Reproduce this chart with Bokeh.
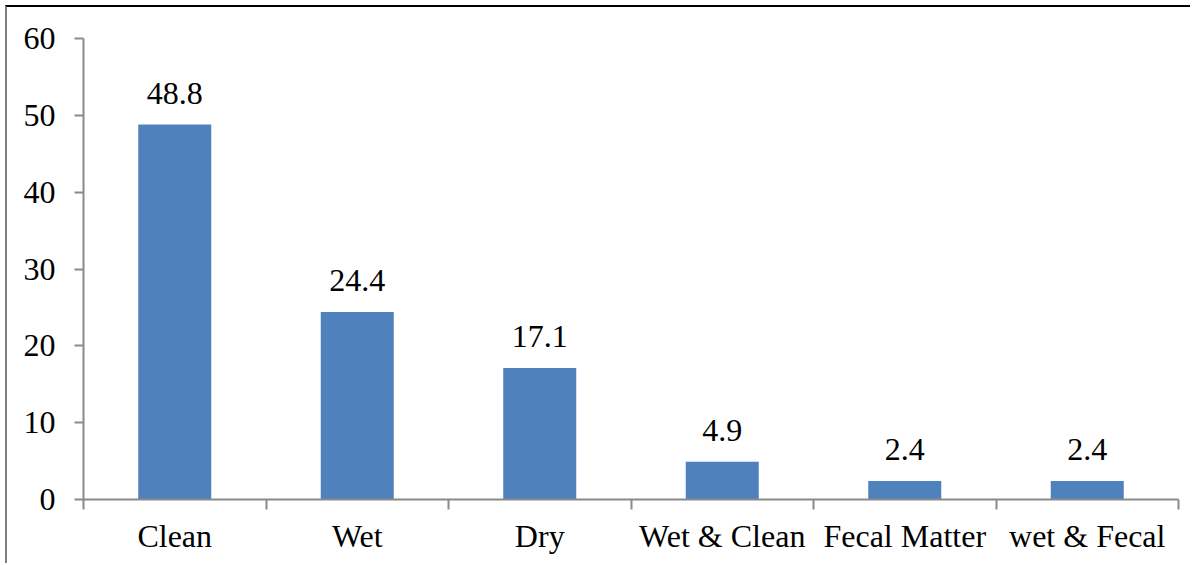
from bokeh.plotting import figure
from bokeh.models import Range1d, FixedTicker, ColumnDataSource, LabelSet
from bokeh.embed import file_html
from bokeh.resources import INLINE

categories = ["Clean", "Wet", "Dry", "Wet & Clean", "Fecal Matter", "wet & Fecal"]
percent = [48.8, 24.4, 17.1, 4.9, 2.4, 2.4]
y_ticks = [0, 10, 20, 30, 40, 50, 60]

FONT = "Liberation Serif"
BAR = "#4F81BD"
AXIS = "#8A8A8A"

n = len(categories)
centers = [i + 0.5 for i in range(n)]
edges = list(range(n + 1))

src = ColumnDataSource(dict(
    x=centers,
    top=percent,
    label=[f"{v:.1f}" for v in percent],
))

p = figure(
    width=1185, height=558,
    x_range=Range1d(0, n), y_range=Range1d(0, 60),
    output_backend="svg", toolbar_location=None,
    min_border_left=76, min_border_right=14,
    min_border_top=31, min_border_bottom=66,
    styles={
        "margin-left": "5px", "margin-top": "5px",
        "border-top": "2px solid black",
        "border-left": "2px solid #808080",
    },
)
p.outline_line_color = None
p.xgrid.grid_line_color = None
p.ygrid.grid_line_color = None
p.background_fill_color = "white"
p.border_fill_color = "white"

p.vbar(x="x", top="top", width=0.4, bottom=0, source=src,
       fill_color=BAR, line_color=None)

# value labels above each bar
p.add_layout(LabelSet(x="x", y="top", text="label", source=src,
                      text_align="center", text_baseline="alphabetic",
                      y_offset=21,
                      text_font=FONT, text_font_size="32px",
                      text_color="black"))

# x axis: category names at the centres, tick marks at the boundaries
xa = p.xaxis[0]
xa.ticker = FixedTicker(ticks=centers, minor_ticks=edges)
xa.major_label_overrides = {c: name for c, name in zip(centers, categories)}
xa.major_tick_line_color = None
xa.major_tick_out = 0
xa.major_tick_in = 0
xa.minor_tick_line_color = AXIS
xa.minor_tick_line_width = 2
xa.minor_tick_out = 10
xa.minor_tick_in = 0
xa.axis_line_color = AXIS
xa.axis_line_width = 2
xa.major_label_text_font = FONT
xa.major_label_text_font_size = "32px"
xa.major_label_text_color = "black"
xa.major_label_standoff = 8

ya = p.yaxis[0]
ya.ticker = FixedTicker(ticks=y_ticks)
ya.major_tick_line_color = AXIS
ya.major_tick_line_width = 2
ya.major_tick_out = 9
ya.major_tick_in = 0
ya.minor_tick_line_color = None
ya.axis_line_color = AXIS
ya.axis_line_width = 2
ya.major_label_text_font = FONT
ya.major_label_text_font_size = "32px"
ya.major_label_text_color = "black"
ya.major_label_standoff = 19

open("out.html", "w").write(file_html(p, INLINE))
